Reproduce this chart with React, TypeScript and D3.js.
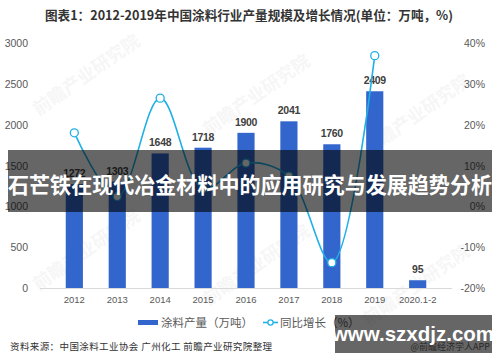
import * as d3 from 'd3';

const categories = ['2012', '2013', '2014', '2015', '2016', '2017', '2018', '2019', '2020.1-2'];
const output = [1272, 1303, 1648, 1718, 1900, 2041, 1760, 2409, 95];
const growth = [18.0, 2.4, 26.5, 4.3, 10.6, 7.4, -13.8, 36.9];
const leftTicks = [0, 500, 1000, 1500, 2000, 2500, 3000];
const rightTicks = [-20, -10, 0, 10, 20, 30, 40];
const watermarks = [
  { x: 90, y: 80 }, { x: 260, y: 100 }, { x: 420, y: 120 },
  { x: 90, y: 255 }, { x: 260, y: 270 }, { x: 420, y: 290 },
];

const W = 500;
const H = 362;
const latin = '"Liberation Sans", Arial, "Noto Sans CJK SC", sans-serif';
const cjk = '"Noto Sans CJK SC", "Liberation Sans", sans-serif';
const barColor = '#3366cc';
const lineColor = '#1fb0e6';

export default function App() {
  const x = d3.scaleBand<string>().domain(categories).range([40, 452]).padding(0.6);
  const yL = d3.scaleLinear().domain([0, 3000]).range([288, 43]);
  const yR = d3.scaleLinear().domain([-20, 40]).range([288, 43]);
  const cx = (c: string) => (x(c) ?? 0) + x.bandwidth() / 2;

  const linePts = growth.map((g, i) => [cx(categories[i]), yR(g)] as [number, number]);
  const linePath = d3.line().curve(d3.curveCatmullRom.alpha(0.5))(linePts) ?? '';

  return (
    <svg width={W} height={H} style={{ position: 'absolute', left: 0, top: 0, background: '#fff' }}>
      <text x={249} y={20} textAnchor="middle" fontFamily={cjk} fontWeight="bold" fontSize={12.6} fill="#333">
        图表1：2012-2019年中国涂料行业产量规模及增长情况(单位：万吨，%)
      </text>

      {watermarks.map((w, i) => (
        <text key={i} x={w.x} y={w.y} textAnchor="middle" fontFamily={cjk} fontWeight="bold" fontSize={18}
          fill="#000" opacity={0.03} transform={`rotate(-35 ${w.x} ${w.y})`}>
          前瞻产业研究院
        </text>
      ))}

      {leftTicks.map(t => (
        <text key={t} x={28} y={yL(t) + 4} textAnchor="end" fontFamily={latin} fontSize={10.5} fill="#595959">{t}</text>
      ))}
      {rightTicks.map(t => (
        <text key={t} x={485} y={yR(t) + 4} textAnchor="end" fontFamily={latin} fontSize={10.5} fill="#595959">{t}%</text>
      ))}

      <line x1={40} x2={452} y1={yL(0) + 0.5} y2={yL(0) + 0.5} stroke="#d9d9d9" />

      {categories.map((c, i) => (
        <g key={c}>
          <rect x={x(c)} y={yL(output[i])} width={x.bandwidth()} height={yL(0) - yL(output[i])} fill={barColor} />
          <text x={cx(c)} y={yL(output[i]) - 7} textAnchor="middle" fontFamily={latin} fontWeight="bold"
            fontSize={10.5} fill="#404040" letterSpacing={-0.3}>{output[i]}</text>
          <text x={cx(c)} y={yL(0) + 15} textAnchor="middle" fontFamily={latin} fontSize={9.5} fill="#595959">{c}</text>
        </g>
      ))}

      <path d={linePath} fill="none" stroke={lineColor} strokeWidth={1.6} />
      {linePts.map((p, i) => (
        <circle key={i} cx={p[0]} cy={p[1]} r={4} fill="#fff" stroke={lineColor} strokeWidth={1.3} />
      ))}

      <rect x={8} y={150} width={484} height={62} fill="#000" opacity={0.6} />
      <text x={250} y={193} textAnchor="middle" fontFamily={cjk} fontWeight="bold" fontSize={21.5} fill="#fff"
        textLength={484} lengthAdjust="spacingAndGlyphs">
        石芒铁在现代冶金材料中的应用研究与发展趋势分析
      </text>

      <rect x={138} y={320} width={20} height={5} fill={barColor} />
      <text x={161} y={327} fontFamily={cjk} fontSize={11.5} fill="#595959">涂料产量（万吨）</text>
      <line x1={263} x2={278} y1={322.5} y2={322.5} stroke={lineColor} strokeWidth={1.6} />
      <circle cx={270.5} cy={322.5} r={2.6} fill="#fff" stroke={lineColor} strokeWidth={1.2} />
      <text x={280} y={327} fontFamily={cjk} fontSize={11.5} fill="#595959">同比增长（%）</text>

      <text x={10} y={350} fontFamily={cjk} fontSize={9.5} fill="#333" letterSpacing={0.4}>
        资料来源：中国涂料工业协会 广州化工 前瞻产业研究院整理
      </text>
      <text x={490} y={350} textAnchor="end" fontFamily={cjk} fontSize={9} fill="#666">@前瞻经济学人APP</text>

      <rect x={335} y={315} width={157} height={38} fill="#000" opacity={0.6} />
      <text x={413} y={341} textAnchor="middle" fontFamily={latin} fontWeight="bold" fontSize={20.5} fill="#fff">
        www.szxdjz.com
      </text>
    </svg>
  );
}
